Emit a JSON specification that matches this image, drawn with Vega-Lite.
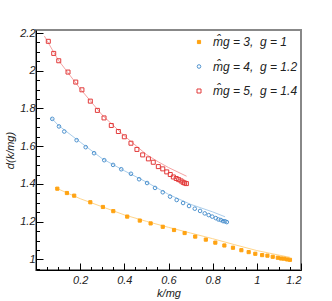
{
  "$schema": "https://vega.github.io/schema/vega-lite/v6.json",
  "autosize": "none",
  "width": 265,
  "height": 240,
  "padding": {"left": 36, "top": 30, "right": 31, "bottom": 31},
  "background": "white",
  "config": {
    "view": {"stroke": "#888888", "strokeWidth": 2},
    "font": "Liberation Sans"
  },
  "datasets": {
    "pts": [
      {"s": "A", "k": 0.0965, "d": 1.375},
      {"s": "A", "k": 0.140, "d": 1.352},
      {"s": "A", "k": 0.173, "d": 1.338},
      {"s": "A", "k": 0.246, "d": 1.303},
      {"s": "A", "k": 0.303, "d": 1.278},
      {"s": "A", "k": 0.350, "d": 1.256},
      {"s": "A", "k": 0.413, "d": 1.227},
      {"s": "A", "k": 0.470, "d": 1.206},
      {"s": "A", "k": 0.519, "d": 1.191},
      {"s": "A", "k": 0.574, "d": 1.173},
      {"s": "A", "k": 0.625, "d": 1.156},
      {"s": "A", "k": 0.673, "d": 1.140},
      {"s": "A", "k": 0.721, "d": 1.121},
      {"s": "A", "k": 0.769, "d": 1.105},
      {"s": "A", "k": 0.812, "d": 1.089},
      {"s": "A", "k": 0.853, "d": 1.074},
      {"s": "A", "k": 0.892, "d": 1.062},
      {"s": "A", "k": 0.930, "d": 1.049},
      {"s": "A", "k": 0.963, "d": 1.039},
      {"s": "A", "k": 0.993, "d": 1.030},
      {"s": "A", "k": 1.024, "d": 1.023},
      {"s": "A", "k": 1.048, "d": 1.020},
      {"s": "A", "k": 1.072, "d": 1.014},
      {"s": "A", "k": 1.095, "d": 1.009},
      {"s": "A", "k": 1.110, "d": 1.005},
      {"s": "A", "k": 1.123, "d": 1.004},
      {"s": "A", "k": 1.137, "d": 1.000},
      {"s": "A", "k": 1.150, "d": 0.998},
      {"s": "B", "k": 0.0738, "d": 1.745},
      {"s": "B", "k": 0.104, "d": 1.705},
      {"s": "B", "k": 0.128, "d": 1.678},
      {"s": "B", "k": 0.184, "d": 1.632},
      {"s": "B", "k": 0.225, "d": 1.595},
      {"s": "B", "k": 0.263, "d": 1.563},
      {"s": "B", "k": 0.309, "d": 1.526},
      {"s": "B", "k": 0.349, "d": 1.501},
      {"s": "B", "k": 0.386, "d": 1.478},
      {"s": "B", "k": 0.430, "d": 1.454},
      {"s": "B", "k": 0.467, "d": 1.425},
      {"s": "B", "k": 0.503, "d": 1.405},
      {"s": "B", "k": 0.539, "d": 1.379},
      {"s": "B", "k": 0.574, "d": 1.356},
      {"s": "B", "k": 0.607, "d": 1.333},
      {"s": "B", "k": 0.637, "d": 1.315},
      {"s": "B", "k": 0.666, "d": 1.299},
      {"s": "B", "k": 0.693, "d": 1.283},
      {"s": "B", "k": 0.719, "d": 1.269},
      {"s": "B", "k": 0.743, "d": 1.257},
      {"s": "B", "k": 0.764, "d": 1.244},
      {"s": "B", "k": 0.782, "d": 1.235},
      {"s": "B", "k": 0.798, "d": 1.227},
      {"s": "B", "k": 0.814, "d": 1.219},
      {"s": "B", "k": 0.826, "d": 1.212},
      {"s": "B", "k": 0.837, "d": 1.209},
      {"s": "B", "k": 0.847, "d": 1.203},
      {"s": "B", "k": 0.856, "d": 1.202},
      {"s": "B", "k": 0.864, "d": 1.198},
      {"s": "C", "k": 0.0557, "d": 2.156},
      {"s": "C", "k": 0.0802, "d": 2.092},
      {"s": "C", "k": 0.103, "d": 2.053},
      {"s": "C", "k": 0.145, "d": 1.993},
      {"s": "C", "k": 0.180, "d": 1.940},
      {"s": "C", "k": 0.208, "d": 1.899},
      {"s": "C", "k": 0.246, "d": 1.839},
      {"s": "C", "k": 0.278, "d": 1.790},
      {"s": "C", "k": 0.308, "d": 1.750},
      {"s": "C", "k": 0.341, "d": 1.710},
      {"s": "C", "k": 0.373, "d": 1.678},
      {"s": "C", "k": 0.400, "d": 1.650},
      {"s": "C", "k": 0.430, "d": 1.616},
      {"s": "C", "k": 0.457, "d": 1.583},
      {"s": "C", "k": 0.483, "d": 1.554},
      {"s": "C", "k": 0.509, "d": 1.533},
      {"s": "C", "k": 0.531, "d": 1.515},
      {"s": "C", "k": 0.554, "d": 1.492},
      {"s": "C", "k": 0.574, "d": 1.480},
      {"s": "C", "k": 0.592, "d": 1.464},
      {"s": "C", "k": 0.608, "d": 1.450},
      {"s": "C", "k": 0.622, "d": 1.437},
      {"s": "C", "k": 0.635, "d": 1.429},
      {"s": "C", "k": 0.646, "d": 1.423},
      {"s": "C", "k": 0.657, "d": 1.416},
      {"s": "C", "k": 0.666, "d": 1.409},
      {"s": "C", "k": 0.673, "d": 1.405},
      {"s": "C", "k": 0.681, "d": 1.402}
    ],
    "curves": [
      {"s": "a", "k": 0.086, "d": 1.381},
      {"s": "a", "k": 0.2, "d": 1.322},
      {"s": "a", "k": 0.3, "d": 1.279},
      {"s": "a", "k": 0.4, "d": 1.236},
      {"s": "a", "k": 0.5, "d": 1.202},
      {"s": "a", "k": 0.6, "d": 1.170},
      {"s": "a", "k": 0.7, "d": 1.140},
      {"s": "a", "k": 0.8, "d": 1.110},
      {"s": "a", "k": 0.9, "d": 1.078},
      {"s": "a", "k": 1.0, "d": 1.047},
      {"s": "a", "k": 1.15, "d": 1.011},
      {"s": "b", "k": 0.068, "d": 1.752},
      {"s": "b", "k": 0.1, "d": 1.712},
      {"s": "b", "k": 0.2, "d": 1.622},
      {"s": "b", "k": 0.3, "d": 1.534},
      {"s": "b", "k": 0.4, "d": 1.470},
      {"s": "b", "k": 0.5, "d": 1.410},
      {"s": "b", "k": 0.6, "d": 1.345},
      {"s": "b", "k": 0.7, "d": 1.292},
      {"s": "b", "k": 0.8, "d": 1.252},
      {"s": "b", "k": 0.856, "d": 1.226},
      {"s": "c", "k": 0.038, "d": 2.184},
      {"s": "c", "k": 0.1, "d": 2.058},
      {"s": "c", "k": 0.2, "d": 1.905},
      {"s": "c", "k": 0.3, "d": 1.765},
      {"s": "c", "k": 0.4, "d": 1.655},
      {"s": "c", "k": 0.5, "d": 1.556},
      {"s": "c", "k": 0.554, "d": 1.517},
      {"s": "c", "k": 0.6, "d": 1.487},
      {"s": "c", "k": 0.682, "d": 1.441}
    ]
  },
  "resolve": {"axis": {"x": "independent", "y": "independent"}},
  "layer": [
    {
      "data": {"name": "curves"},
      "mark": {"type": "line", "strokeWidth": 1, "clip": true},
      "encoding": {
        "x": {
          "field": "k", "type": "quantitative",
          "scale": {"domain": [0, 1.2], "nice": false, "zero": false},
          "axis": {
            "orient": "bottom", "values": [0.05, 0.1, 0.15, 0.25, 0.3, 0.35, 0.45, 0.5, 0.55, 0.65, 0.7, 0.75, 0.85, 0.9, 0.95, 1.05, 1.1, 1.15],
            "tickSize": -3.5, "tickColor": "black", "labels": false, "domain": false, "grid": false, "title": null
          }
        },
        "y": {
          "field": "d", "type": "quantitative",
          "scale": {"domain": [0.944, 2.216], "nice": false, "zero": false},
          "axis": {
            "orient": "left", "values": [0.95, 1.05, 1.1, 1.15, 1.25, 1.3, 1.35, 1.45, 1.5, 1.55, 1.65, 1.7, 1.75, 1.85, 1.9, 1.95, 2.05, 2.1, 2.15],
            "tickSize": -3.5, "tickColor": "black", "labels": false, "domain": false, "grid": false, "title": null
          }
        },
        "stroke": {
          "field": "s", "type": "nominal",
          "scale": {"domain": ["a", "b", "c"], "range": ["#ffd58a", "#a9cdeb", "#f5a3a3"]},
          "legend": null
        }
      }
    },
    {
      "data": {"name": "pts"},
      "mark": {"type": "point", "filled": false, "strokeWidth": 1, "opacity": 1},
      "encoding": {
        "x": {
          "field": "k", "type": "quantitative",
          "scale": {"domain": [0, 1.2], "nice": false, "zero": false},
          "axis": {
            "orient": "bottom", "values": [0.2, 0.4, 0.6, 0.8, 1, 1.2], "format": "~g",
            "tickSize": -7, "tickColor": "black", "domainColor": "black", "grid": false,
            "labelFont": "Liberation Sans", "labelFontStyle": "italic", "labelFontSize": 11, "labelColor": "#222",
            "labelPadding": 11,
            "title": "k/mg", "titleFont": "Liberation Sans", "titleFontStyle": "italic", "titleFontWeight": "normal",
            "titleFontSize": 11, "titleColor": "#222", "titlePadding": 2
          }
        },
        "y": {
          "field": "d", "type": "quantitative",
          "scale": {"domain": [0.944, 2.216], "nice": false, "zero": false},
          "axis": {
            "orient": "left", "values": [1, 1.2, 1.4, 1.6, 1.8, 2, 2.2], "format": "~g",
            "tickSize": -7, "tickColor": "black", "domainColor": "black", "grid": false,
            "labelFont": "Liberation Sans", "labelFontStyle": "italic", "labelFontSize": 11, "labelColor": "#222",
            "labelPadding": 8,
            "title": "d(k/mg)", "titleFont": "Liberation Sans", "titleFontStyle": "italic", "titleFontWeight": "normal",
            "titleFontSize": 11, "titleColor": "#222", "titlePadding": 4
          }
        },
        "color": {
          "field": "s", "type": "nominal",
          "scale": {"domain": ["A", "B", "C"], "range": ["#ffa312", "#4f93cf", "#e23a3a"]},
          "legend": {
            "orient": "none", "legendX": 157, "legendY": 6, "title": null,
            "labelExpr": "datum.value == 'A' ? 'm̂g = 3,\u00a0\u00a0g = 1' : datum.value == 'B' ? 'm̂g = 4,\u00a0\u00a0g = 1.2' : 'm̂g = 5,\u00a0\u00a0g = 1.4'",
            "labelFont": "Liberation Sans", "labelFontStyle": "italic", "labelFontSize": 12, "labelColor": "#222",
            "symbolSize": 12, "symbolStrokeWidth": 1, "rowPadding": 12.5, "labelOffset": 8
          }
        },
        "fill": {
          "field": "s", "type": "nominal",
          "scale": {"domain": ["A", "B", "C"], "range": ["#ffa312", "rgba(255,255,255,0)", "rgba(255,255,255,0)"]},
          "legend": {
            "orient": "none", "legendX": 157, "legendY": 6, "title": null,
            "labelExpr": "datum.value == 'A' ? 'm̂g = 3,\u00a0\u00a0g = 1' : datum.value == 'B' ? 'm̂g = 4,\u00a0\u00a0g = 1.2' : 'm̂g = 5,\u00a0\u00a0g = 1.4'",
            "labelFont": "Liberation Sans", "labelFontStyle": "italic", "labelFontSize": 12, "labelColor": "#222",
            "symbolSize": 12, "symbolStrokeWidth": 1, "rowPadding": 12.5, "labelOffset": 8
          }
        },
        "shape": {
          "field": "s", "type": "nominal",
          "scale": {"domain": ["A", "B", "C"], "range": ["square", "circle", "square"]},
          "legend": {
            "orient": "none", "legendX": 157, "legendY": 6, "title": null,
            "labelExpr": "datum.value == 'A' ? 'm̂g = 3,\u00a0\u00a0g = 1' : datum.value == 'B' ? 'm̂g = 4,\u00a0\u00a0g = 1.2' : 'm̂g = 5,\u00a0\u00a0g = 1.4'",
            "labelFont": "Liberation Sans", "labelFontStyle": "italic", "labelFontSize": 12, "labelColor": "#222",
            "symbolSize": 12, "symbolStrokeWidth": 1, "rowPadding": 12.5, "labelOffset": 8
          }
        },
        "size": {
          "field": "s", "type": "nominal",
          "scale": {"domain": ["A", "B", "C"], "range": [10, 16, 22]},
          "legend": null
        }
      }
    }
  ]
}
